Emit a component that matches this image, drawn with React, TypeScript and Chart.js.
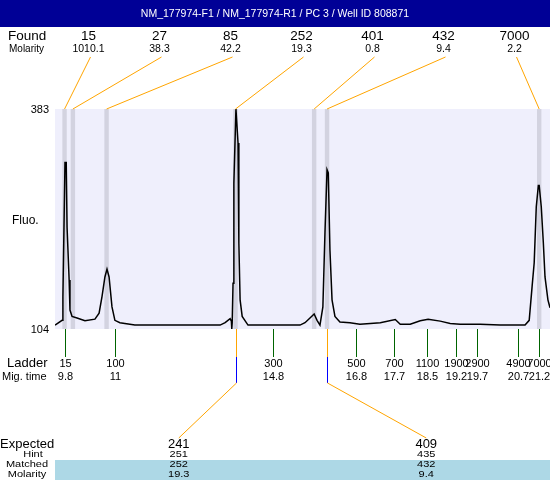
import React, { useEffect, useRef } from "react";
import { Chart, registerables } from "chart.js";

Chart.register(...registerables);

const TITLE = "NM_177974-F1 / NM_177974-R1 / PC 3 / Well ID 808871";

// Found peaks
const foundSizes = ["15", "27", "85", "252", "401", "432", "7000"];
const foundMolarity = ["1010.1", "38.3", "42.2", "19.3", "0.8", "9.4", "2.2"];
const foundTimes = [9.79, 9.99, 10.8, 13.9, 15.79, 16.1, 21.2];

// Ladder
const ladderSizes = ["15", "100", "300", "500", "700", "1100", "1900", "2900", "4900", "7000"];
const ladderTimes = [9.8, 11, 14.8, 16.8, 17.7, 18.5, 19.2, 19.7, 20.7, 21.2];
const ladderTimeLabels = ["9.8", "11", "14.8", "16.8", "17.7", "18.5", "19.2", "19.7", "20.7", "21.2"];

// Expected table
const expectedSizes = ["241", "409"];
const hintSizes = ["251", "435"];
const matchedSizes = ["252", "432"];
const matchedMolarity = ["19.3", "9.4"];
const matchedFoundIndex = [3, 5];

// Y range
const yTickLabels = [104, 383];

// Electropherogram trace (migration time, fluorescence)
const traceTimes = [
  9.56, 9.73, 9.75, 9.8, 9.83, 9.85, 9.9, 9.92, 9.97, 10.09, 10.28, 10.52, 10.62, 10.69, 10.76, 10.81,
  10.86, 10.93, 11.0, 11.12, 11.48, 13.53, 13.65, 13.77, 13.8, 13.81, 13.82, 13.84, 13.86, 13.91, 13.96, 13.98,
  14.01, 14.06, 14.2, 15.45, 15.57, 15.69, 15.79, 15.86, 15.93, 16.0, 16.05, 16.1, 16.13, 16.17,
  16.22, 16.29, 16.41, 16.65, 16.89, 17.14, 17.38, 17.74, 17.86, 18.1, 18.34, 18.53, 18.82, 19.06,
  19.3, 19.78, 20.26, 20.86, 20.96, 21.03, 21.08, 21.13, 21.18, 21.2, 21.25, 21.3, 21.34, 21.41, 21.46,
];
const traceFluo = [
  109, 115, 145, 315, 315, 233, 166, 128, 120, 118, 114.5, 116.5, 124, 145, 170, 180,
  170, 132, 115, 112, 109, 109, 112, 117, 114, 104, 112, 162, 289, 383, 340, 213,
  141, 120, 109, 109, 112, 118, 123, 115, 109, 132, 226, 306, 302, 204,
  141, 120, 113, 112, 110, 111, 112, 116, 110, 110, 114.5, 116.5, 114, 111,
  110, 110, 109, 109, 115, 158, 188, 259, 286, 286, 259, 213, 170, 141, 131,
];

const FONT = "'Liberation Sans', Arial, sans-serif";
const ORANGE = "#ffa500";
const GREEN = "#006400";

function text(ctx: CanvasRenderingContext2D, s: string, x: number, y: number, size: number, align: CanvasTextAlign = "center", sy = 1) {
  ctx.save();
  ctx.font = `${size}px ${FONT}`;
  ctx.textAlign = align;
  ctx.textBaseline = "middle";
  ctx.translate(x, y);
  ctx.scale(1, sy);
  ctx.fillText(s, 0, 0);
  ctx.restore();
}

function line(ctx: CanvasRenderingContext2D, x1: number, y1: number, x2: number, y2: number, color: string, w = 1) {
  ctx.save();
  ctx.strokeStyle = color;
  ctx.lineWidth = w;
  ctx.beginPath();
  ctx.moveTo(x1, y1);
  ctx.lineTo(x2, y2);
  ctx.stroke();
  ctx.restore();
}

const decorPlugin = {
  id: "decor",
  beforeDraw(chart: any) {
    const { ctx, chartArea: a } = chart;
    ctx.save();
    ctx.fillStyle = "#ffffff";
    ctx.fillRect(0, 0, chart.width, chart.height);
    ctx.fillStyle = "#efeffc";
    ctx.fillRect(a.left, a.top, a.right - a.left, a.bottom - a.top);
    ctx.restore();
  },
  beforeDatasetsDraw(chart: any) {
    const { ctx, chartArea: a } = chart;
    const xs = chart.scales.x;
    ctx.save();
    ctx.fillStyle = "#d3d3e0";
    foundTimes.forEach((t) => {
      const px = xs.getPixelForValue(t);
      ctx.fillRect(px - 2.2, a.top, 4.4, a.bottom - a.top);
    });
    ctx.restore();
  },
  afterDraw(chart: any) {
    const { ctx, chartArea: a } = chart;
    const xs = chart.scales.x;
    const ys = chart.scales.y;
    const W = chart.width;

    // title bar
    ctx.save();
    ctx.fillStyle = "#000096";
    ctx.fillRect(0, 0, W, 27);
    ctx.fillStyle = "#ffffff";
    text(ctx, TITLE, W / 2, 14, 10.5);
    ctx.restore();

    ctx.fillStyle = "#000000";
    // found row
    text(ctx, "Found", 8, 36, 13.5, "left");
    text(ctx, "Molarity", 9, 49.5, 10, "left");
    const colL = a.left - 2;
    const colW = (W - colL) / foundSizes.length;
    foundSizes.forEach((s, i) => {
      const cx = colL + colW * (i + 0.5);
      ctx.fillStyle = "#000000";
      text(ctx, s, cx, 36, 13.5);
      text(ctx, foundMolarity[i], cx, 49.5, 10.5);
      line(ctx, cx + 2, 57, xs.getPixelForValue(foundTimes[i]), a.top, ORANGE, 1);
    });

    // y labels
    ctx.fillStyle = "#000000";
    yTickLabels.forEach((v) => {
      text(ctx, String(v), 49, ys.getPixelForValue(v) + 0.5, 11, "right");
    });
    text(ctx, "Fluo.", 12, (a.top + a.bottom) / 2 + 2, 12, "left");

    // ladder
    text(ctx, "Ladder", 7, 363.5, 13, "left");
    text(ctx, "Mig. time", 2, 377, 11, "left");
    ladderTimes.forEach((t, i) => {
      const px = Math.round(xs.getPixelForValue(t)) + 0.5;
      line(ctx, px, a.bottom, px, 357, GREEN, 1);
      ctx.fillStyle = "#000000";
      text(ctx, ladderSizes[i], px, 363.5, 11);
      text(ctx, ladderTimeLabels[i], px, 377, 11);
    });

    // expected table
    const tL = 55;
    ctx.save();
    ctx.fillStyle = "#add8e6";
    ctx.fillRect(tL, 460, W - tL, 20);
    ctx.restore();
    const tW = (W - tL) / expectedSizes.length;
    ctx.fillStyle = "#000000";
    text(ctx, "Expected", 0, 444, 13, "left");
    text(ctx, "Hint", 33, 455, 11, "center", 0.8);
    text(ctx, "Matched", 27, 465, 11, "center", 0.8);
    text(ctx, "Molarity", 27, 474.5, 11, "center", 0.8);
    expectedSizes.forEach((s, i) => {
      const cx = tL + tW * (i + 0.5);
      const px = Math.round(xs.getPixelForValue(foundTimes[matchedFoundIndex[i]])) + 0.5;
      line(ctx, px, a.bottom, px, 357, ORANGE, 1);
      line(ctx, px, 357, px, 383, "#0000ff", 1);
      line(ctx, px, 383, cx, 438, ORANGE, 1);
      ctx.fillStyle = "#000000";
      text(ctx, s, cx, 444.5, 13);
      text(ctx, hintSizes[i], cx, 455, 11, "center", 0.8);
      text(ctx, matchedSizes[i], cx, 465, 11, "center", 0.8);
      text(ctx, matchedMolarity[i], cx, 474.5, 11, "center", 0.8);
    });
  },
};

export default function App() {
  const ref = useRef<HTMLCanvasElement | null>(null);
  useEffect(() => {
    if (!ref.current) return;
    const chart = new Chart(ref.current, {
      type: "line",
      data: {
        datasets: [
          {
            data: traceTimes.map((t, i) => ({ x: t, y: traceFluo[i] })),
            borderColor: "#000000",
            borderWidth: 1.5,
            pointRadius: 0,
            tension: 0,
            fill: false,
          },
        ],
      },
      options: {
        animation: false,
        responsive: false,
        maintainAspectRatio: false,
        layout: { padding: { left: 55, top: 109, right: 0, bottom: 151 } },
        plugins: { legend: { display: false }, tooltip: { enabled: false }, title: { display: false } },
        scales: {
          x: { type: "linear", min: 9.56, max: 21.46, display: false },
          y: { type: "linear", min: yTickLabels[0], max: yTickLabels[1], display: false },
        },
      },
      plugins: [decorPlugin],
    });
    return () => chart.destroy();
  }, []);
  return (
    <div style={{ position: "absolute", left: 0, top: 0, width: 550, height: 480 }}>
      <canvas ref={ref} width={550} height={480} style={{ display: "block" }} />
    </div>
  );
}
